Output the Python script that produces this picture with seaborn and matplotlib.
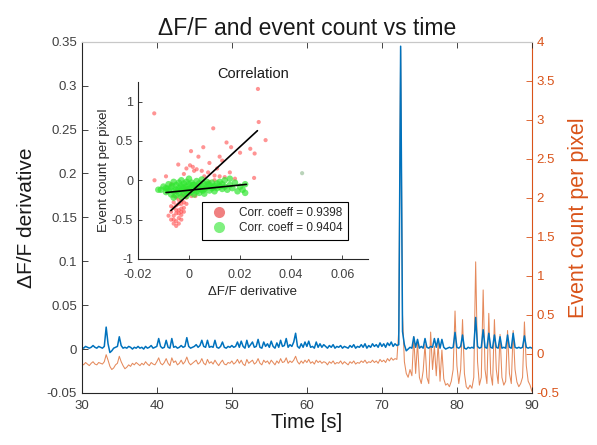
import numpy as np
import pandas as pd
import matplotlib
matplotlib.use('Agg')
import matplotlib.pyplot as plt
from matplotlib.lines import Line2D
import seaborn as sns

# --- time series, sampled every 0.25 s from 30 s to 90 s ---
t_start, t_step = 30.0, 0.25

# dF/F derivative, in units of 1e-3
dff_milli = [
    2, 1, 3, 2, 1, 2, 4, 2,
    1, 3, 2, 1, 3, 25, 6, -4,
    -2, 1, 2, 3, 14, 4, 1, 2,
    1, 3, 2, 0, 2, 1, 3, 1,
    2, 0, 3, 1, 2, 4, 1, 2,
    3, 12, 3, 1, 2, 10, 2, 1,
    12, 2, 3, 1, 2, 4, 2, 3,
    13, 3, 1, 2, 3, 5, 2, 4,
    10, 3, 2, 10, 2, 3, 2, 10,
    2, 1, 3, 8, 2, 1, 3, 2,
    4, 2, 3, 8, 2, 9, 3, 1,
    10, 2, 5, 8, 2, 3, 11, 2,
    1, 8, 3, 6, 2, 9, 3, 1,
    7, 2, 10, 3, 4, 12, 2, 5,
    3, 8, 18, 3, 1, 6, 2, 8,
    3, 9, 2, 3, 1, 8, 2, 6,
    2, 5, 3, 1, 4, 2, 5, 1,
    3, 2, 4, 1, 3, 2, 1, 4,
    2, 5, 1, 3, 2, 5, 2, 6,
    1, 4, 2, 6, 3, 5, 2, 7,
    3, 6, 2, 7, 4, 8, 3, 6,
    4, 5, 345, 20, 5, -2, 0, 2,
    1, 14, 2, 11, 1, 3, 1, 12,
    2, 1, 3, 2, 12, 2, 12, 1,
    11, 2, 0, 1, 2, 1, 2, 19,
    2, 1, 3, 16, 1, 0, 2, 1,
    2, 1, 36, 3, 1, 2, 22, 2,
    1, 18, 2, 1, 16, 2, 1, 14,
    1, 2, 1, 16, 2, 1, 18, 2,
    1, 2, 1, 2, 15, 2, 1, 2,
    1,
]

# event count per pixel, in units of 1e-2
events_centi = [
    -12, -14, -11, -13, -15, -12, -10, -13,
    -14, -11, -12, -13, -10, -1, -8, -16,
    -20, -18, -14, -12, -3, -10, -15, -19,
    -17, -14, -16, -12, -14, -11, -13, -15,
    -12, -14, -10, -13, -15, -11, -13, -14,
    -10, -5, -12, -14, -11, -6, -12, -15,
    -5, -11, -9, -14, -12, -8, -13, -10,
    -4, -11, -14, -12, -10, -8, -13, -11,
    -6, -12, -14, -7, -12, -10, -13, -8,
    -12, -15, -11, -8, -13, -14, -11, -12,
    -9, -13, -11, -7, -12, -8, -13, -15,
    -7, -12, -10, -8, -13, -11, -6, -12,
    -14, -8, -11, -9, -13, -8, -11, -14,
    -9, -12, -6, -11, -10, -5, -12, -9,
    -11, -8, -3, -10, -13, -9, -12, -8,
    -11, -7, -12, -10, -13, -8, -11, -9,
    -12, -10, -11, -14, -10, -12, -9, -13,
    -11, -12, -9, -13, -10, -12, -14, -10,
    -12, -9, -13, -11, -12, -9, -11, -8,
    -12, -10, -11, -8, -11, -9, -12, -7,
    -10, -8, -11, -6, -9, -5, -8, -6,
    -7, 30, 390, 50, -10, -25, -30, -20,
    -28, 22, -25, 15, -30, -38, -22, 12,
    -30, -38, 28, -20, 10, -28, 14, -35,
    5, -32, -40, -38, -42, -35, -20, 55,
    -15, -38, -20, 44, -25, -42, -45, -40,
    -44, -30, 118, -10, -40, -30, 82, -20,
    -38, 52, -25, -40, 44, -20, -38, 25,
    -30, -40, -35, 30, -25, -38, 30, -20,
    -36, -42, -38, -30, 41, -15, -35, -40,
    -48,
]

# --- correlation scatter ---
red_x = [-0.0136, -0.0135, 0.027, 0.0095, 0.0273, 0.030, 0.0257, 0.024, 0.0147, 0.0165,
         0.0056, 0.0008, 0.0037, -0.0042, 0.0004, 0.0015, 0.003, 0.005, 0.0075, 0.010,
         0.012, 0.011, 0.008, 0.012, 0.006, 0.008, 0.010, 0.0255, -0.007, -0.002,
         -0.001, 0.002, 0.014, 0.016, 0.018, 0.020, 0.013, -0.009, 0.004, 0.0025,
         -0.007, -0.006, -0.005, -0.004, -0.006, -0.005, -0.003, -0.004, -0.007, -0.006,
         -0.005, -0.003, -0.002, -0.004, -0.005, -0.003, -0.002, -0.001, -0.006, -0.007,
         -0.004, -0.003, -0.005, -0.002, -0.001, -0.008, -0.003, -0.004, -0.002, 0.000,
         0.001, -0.001, -0.006, -0.005, -0.003, -0.002, -0.006, -0.004, -0.005, -0.003]
red_y = [0.85, 0.0, 1.16, 0.66, 0.74, 0.51, 0.34, 0.40, 0.48, 0.42,
         0.42, 0.37, 0.30, 0.20, 0.19, 0.17, 0.14, 0.12, 0.10, 0.06,
         0.05, 0.15, 0.22, 0.30, 0.05, -0.02, 0.0, 0.03, -0.05, 0.08,
         0.15, 0.12, 0.04, 0.10, 0.02, 0.35, 0.25, 0.05, -0.10, -0.20,
         -0.50, -0.55, -0.52, -0.48, -0.45, -0.42, -0.40, -0.38, -0.40, -0.35,
         -0.32, -0.30, -0.28, -0.25, -0.22, -0.20, -0.18, -0.22, -0.28, -0.33,
         -0.55, -0.50, -0.58, -0.40, -0.30, -0.45, -0.36, -0.30, -0.12, -0.15,
         -0.20, -0.10, -0.20, -0.15, -0.44, -0.35, -0.50, -0.42, -0.38, -0.26]

green_x = [-0.011, -0.010, -0.009, -0.009, -0.008, -0.008, -0.007, -0.007, -0.006, -0.006,
           -0.006, -0.005, -0.005, -0.005, -0.004, -0.004, -0.004, -0.003, -0.003, -0.003,
           -0.003, -0.002, -0.002, -0.002, -0.001, -0.001, -0.001, -0.001, 0.000, 0.000,
           0.000, 0.000, 0.001, 0.001, 0.001, 0.002, 0.002, 0.002, 0.003, 0.003,
           0.003, 0.004, 0.004, 0.004, 0.005, 0.005, 0.005, 0.006, 0.006, 0.006,
           0.007, 0.007, 0.008, 0.008, 0.009, 0.009, 0.010, 0.010, 0.011, 0.011,
           0.012, 0.012, 0.013, 0.013, 0.014, 0.014, 0.015, 0.016, 0.017, 0.018,
           0.019, 0.020, 0.021, 0.022, 0.022, 0.016, -0.012,
           -0.0085, -0.0065, -0.0045, -0.0025, -0.0005, 0.0015, 0.0035, 0.0055, 0.0075, 0.0095]
green_y = [-0.12, -0.08, -0.15, -0.10, -0.05, -0.13, -0.18, -0.09, -0.02, -0.14,
           -0.22, -0.06, -0.12, -0.19, -0.03, -0.10, -0.16, -0.07, -0.13, -0.21,
           0.00, -0.04, -0.10, -0.17, -0.02, -0.08, -0.14, -0.20, -0.05, -0.11,
           -0.16, 0.02, -0.03, -0.09, -0.15, -0.06, -0.12, -0.18, -0.01, -0.08,
           -0.14, -0.04, -0.10, -0.16, -0.07, -0.12, 0.01, -0.05, -0.11, -0.17,
           -0.02, -0.09, -0.06, -0.13, -0.03, -0.10, -0.07, -0.14, -0.04, -0.10,
           -0.08, -0.02, -0.11, -0.05, -0.08, 0.00, -0.12, -0.06, -0.10, -0.03,
           -0.14, -0.08, -0.12, -0.05, -0.16, 0.02, -0.12,
           -0.11, -0.07, -0.13, -0.09, -0.12, -0.06, -0.10, -0.13, -0.05, -0.09]
# one faint outlier far to the right
outlier_x = [0.0443]
outlier_y = [0.09]

# fitted lines
red_fit_x = [-0.0071, 0.0268]
red_fit_y = [-0.385, 0.63]
green_fit_x = [-0.009, 0.0225]
green_fit_y = [-0.156, -0.052]

corr_labels = ['Corr. coeff = 0.9398', 'Corr. coeff = 0.9404']

# tick labels (MATLAB style formatting)
time_ticks = [30, 40, 50, 60, 70, 80, 90]
left_ticks = [-0.05, 0, 0.05, 0.1, 0.15, 0.2, 0.25, 0.3, 0.35]
left_labels = ['-0.05', '0', '0.05', '0.1', '0.15', '0.2', '0.25', '0.3', '0.35']
right_ticks = [-0.5, 0, 0.5, 1, 1.5, 2, 2.5, 3, 3.5, 4]
right_labels = ['-0.5', '0', '0.5', '1', '1.5', '2', '2.5', '3', '3.5', '4']
inset_xticks = [-0.02, 0, 0.02, 0.04, 0.06]
inset_xlabels = ['-0.02', '0', '0.02', '0.04', '0.06']
inset_yticks = [-1, -0.5, 0, 0.5, 1]
inset_ylabels = ['-1', '-0.5', '0', '0.5', '1']

BLUE = '#0072BD'
ORANGE = '#D95319'
ORANGE_LINE = '#E58A5C'
TICKGRAY = '#404040'

sns.set_style('ticks')
plt.rcParams['font.family'] = ['Liberation Sans', 'DejaVu Sans']
plt.rcParams['xtick.direction'] = 'in'
plt.rcParams['ytick.direction'] = 'in'

n = len(dff_milli)
df = pd.DataFrame({
    'time': t_start + t_step * np.arange(n),
    'dff': np.array(dff_milli) / 1000.0,
    'events': np.array(events_centi) / 100.0,
})

fig = plt.figure(figsize=(5.97, 4.45), dpi=100)
ax = fig.add_axes([0.137, 0.117, 0.754, 0.789])
ax2 = ax.twinx()

sns.lineplot(data=df, x='time', y='events', ax=ax2, color=ORANGE_LINE, lw=0.75)
sns.lineplot(data=df, x='time', y='dff', ax=ax, color=BLUE, lw=1.1)
ax.set_zorder(ax2.get_zorder() + 1)
ax.patch.set_visible(False)

ax.set_xlim(30, 90)
ax.set_ylim(-0.05, 0.35)
ax2.set_ylim(-0.5, 4)
ax.set_xticks(time_ticks)
ax.set_xticklabels([str(v) for v in time_ticks], fontsize=9.5, color=TICKGRAY)
ax.set_yticks(left_ticks)
ax.set_yticklabels(left_labels, fontsize=9.5, color=TICKGRAY)
ax2.set_yticks(right_ticks)
ax2.set_yticklabels(right_labels, fontsize=9.5, color=ORANGE)
ax.tick_params(top=True, length=4, width=0.6, colors='#262626', labelcolor=TICKGRAY)
ax.tick_params(axis='x', pad=5)
ax2.tick_params(axis='y', length=4, width=0.6, colors=ORANGE, labelcolor=ORANGE)

ax.set_xlabel('Time [s]', fontsize=14.5, color='#1a1a1a', labelpad=1)
ax.set_ylabel('ΔF/F derivative', fontsize=15, color='#1a1a1a', labelpad=8)
ax2.set_ylabel('Event count per pixel', fontsize=15.5, color=ORANGE, labelpad=6)
ax.set_title('ΔF/F and event count vs time', fontsize=16.5, color='#1a1a1a', pad=5)

for sp in ['left', 'bottom']:
    ax.spines[sp].set_color('#262626')
    ax.spines[sp].set_linewidth(0.8)
ax.spines['top'].set_color('#c8c8c8')
ax.spines['right'].set_visible(False)
ax2.spines['right'].set_color(ORANGE)
ax2.spines['top'].set_color('#c8c8c8')
ax2.spines['left'].set_visible(False)
ax2.spines['bottom'].set_visible(False)

# --- inset ---
axin = fig.add_axes([0.231, 0.418, 0.385, 0.398])
axin.patch.set_visible(False)
sns.scatterplot(x=red_x, y=red_y, ax=axin, color='#ff4d4d', s=9, alpha=0.6,
                edgecolor='none', legend=False)
sns.scatterplot(x=green_x, y=green_y, ax=axin, color='#33e633', s=22, alpha=0.7,
                edgecolor='none', legend=False)
sns.scatterplot(x=outlier_x, y=outlier_y, ax=axin, color='#a8c8a8', s=9, alpha=0.8,
                edgecolor='none', legend=False)
sns.lineplot(x=red_fit_x, y=red_fit_y, ax=axin, color='black', lw=1.2)
sns.lineplot(x=green_fit_x, y=green_fit_y, ax=axin, color='black', lw=1.2)

axin.set_xlim(-0.02, 0.07)
axin.set_ylim(-1, 1.25)
axin.set_xticks(inset_xticks)
axin.set_xticklabels(inset_xlabels, fontsize=9, color=TICKGRAY)
axin.set_yticks(inset_yticks)
axin.set_yticklabels(inset_ylabels, fontsize=9, color=TICKGRAY)
axin.tick_params(length=3, width=0.6)
axin.tick_params(axis='x', pad=7)
axin.set_xlabel('ΔF/F derivative', fontsize=9.5, color='#262626', labelpad=4)
axin.set_ylabel('Event count per pixel', fontsize=9.5, color='#262626', labelpad=1)
axin.set_title('Correlation', fontsize=10.5, color='#1a1a1a', pad=3)
sns.despine(ax=axin)
for sp in ['left', 'bottom']:
    axin.spines[sp].set_color('#262626')
    axin.spines[sp].set_linewidth(0.8)

handles = [
    Line2D([], [], ls='none', marker='o', markersize=8, color='#f08080', mec='none'),
    Line2D([], [], ls='none', marker='o', markersize=8, color='#80f080', mec='none'),
]
leg = axin.legend(handles, corr_labels, loc='lower right', bbox_to_anchor=(0.94, 0.075),
                  fontsize=8.5, frameon=True, fancybox=False, framealpha=1,
                  handletextpad=0.7, borderpad=0.45, labelspacing=0.3)
leg.get_frame().set_edgecolor('black')
leg.get_frame().set_linewidth(0.8)

fig.savefig('out.png', dpi=100)
